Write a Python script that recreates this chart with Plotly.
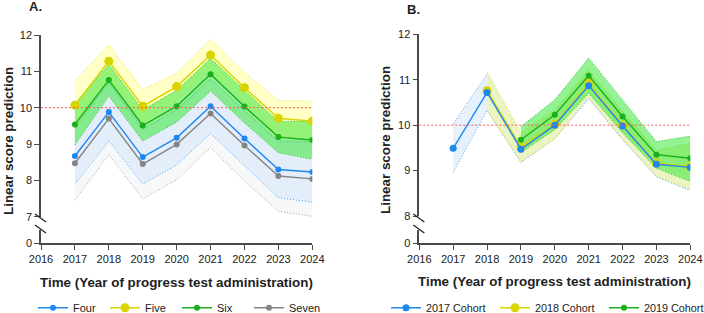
import plotly.graph_objects as go

# ---------------- data ----------------
years = [2017, 2018, 2019, 2020, 2021, 2022, 2023, 2024]
x_ticks = [2016, 2017, 2018, 2019, 2020, 2021, 2022, 2023, 2024]

# Panel A (by year group)
four = [8.67, 9.88, 8.64, 9.17, 10.04, 9.15, 8.30, 8.23]
four_lo = [7.89, 9.08, 7.90, 8.42, 9.29, 8.41, 7.52, 7.40]
four_hi = [9.45, 10.68, 9.40, 9.93, 10.80, 9.90, 9.06, 9.05]

five = [10.07, 11.28, 10.04, 10.58, 11.45, 10.55, 9.71, 9.63]
five_lo = [9.39, 10.84, 9.58, 10.21, 11.02, 10.13, 9.22, 9.08]
five_hi = [10.75, 11.72, 10.50, 10.95, 11.88, 10.97, 10.20, 10.18]

six = [9.54, 10.76, 9.51, 10.04, 10.92, 10.03, 9.19, 9.11]
six_lo = [8.97, 10.32, 9.08, 9.60, 10.46, 9.58, 8.76, 8.58]
six_hi = [10.11, 11.20, 9.94, 10.48, 11.36, 10.48, 9.62, 9.64]

seven = [8.47, 9.70, 8.45, 8.99, 9.84, 8.96, 8.12, 8.04]
seven_lo = [7.45, 8.71, 7.49, 8.02, 8.90, 7.98, 7.15, 7.01]
seven_hi = [9.49, 10.69, 9.41, 9.96, 10.78, 9.94, 9.09, 9.07]

# Panel B (by cohort)
yrs17 = [2017, 2018, 2019, 2020, 2021, 2022, 2023, 2024]
c2017 = [9.49, 10.72, 9.47, 10.00, 10.87, 9.98, 9.14, 9.07]
c2017_lo = [8.96, 10.32, 9.18, 9.70, 10.58, 9.68, 8.86, 8.56]
c2017_hi = [10.03, 11.12, 9.78, 10.30, 11.17, 10.28, 9.42, 9.58]

yrs18 = [2018, 2019, 2020, 2021, 2022, 2023, 2024]
c2018 = [10.76, 9.52, 10.02, 10.92, 10.00, 9.16, 9.09]
c2018_lo = [10.33, 9.20, 9.70, 10.62, 9.70, 8.88, 8.58]
c2018_hi = [11.17, 9.84, 10.34, 11.22, 10.30, 9.44, 9.60]

yrs19 = [2019, 2020, 2021, 2022, 2023, 2024]
c2019 = [9.68, 10.23, 11.09, 10.19, 9.35, 9.27]
c2019_lo = [9.40, 9.90, 10.70, 9.83, 9.05, 8.76]
c2019_hi = [9.97, 10.56, 11.48, 10.55, 9.64, 9.76]

reference_score = 10

# ---------------- figure ----------------
W, H = 704, 313
FONT = "Liberation Sans, Arial, sans-serif"
AX = "#4a4a4a"

fig = go.Figure()


def band(xs, lo, hi, fill, edge, xa, ya):
    fig.add_trace(go.Scatter(
        x=list(xs) + list(xs)[::-1], y=list(hi) + list(lo)[::-1],
        fill="toself", fillcolor=fill, mode="none", hoverinfo="skip",
        showlegend=False, xaxis=xa, yaxis=ya))
    for arr in (lo, hi):
        fig.add_trace(go.Scatter(
            x=xs, y=arr, mode="lines", line=dict(color=edge, width=1, dash="1px,2px"),
            hoverinfo="skip", showlegend=False, xaxis=xa, yaxis=ya))


def series(xs, ys, name, color, msize, xa, ya, legend, rank):
    fig.add_trace(go.Scatter(
        x=xs, y=ys, name=name, mode="lines+markers",
        line=dict(color=color, width=1.4),
        marker=dict(color=color, size=msize),
        xaxis=xa, yaxis=ya, legend=legend, legendrank=rank))


# Panel A bands
band(years, seven_lo, seven_hi, "rgba(240,242,245,0.55)", "#a0a0a0", "x", "y")
band(years, four_lo, four_hi, "rgba(215,232,250,0.6)", "#4aa3f0", "x", "y")
band(years, five_lo, five_hi, "rgba(255,255,120,0.42)", "#e6e030", "x", "y")
band(years, six_lo, six_hi, "rgba(40,230,40,0.5)", "#2bbf2b", "x", "y")

series(years, four, "Four", "#1e88f0", 6, "x", "y", "legend", 1)
series(years, five, "Five", "#d8d400", 9, "x", "y", "legend", 2)
series(years, six, "Six", "#19b019", 6, "x", "y", "legend", 3)
series(years, seven, "Seven", "#858585", 6, "x", "y", "legend", 4)

# Panel B bands
band(yrs17, c2017_lo, c2017_hi, "rgba(215,232,250,0.6)", "#4aa3f0", "x2", "y2")
band(yrs18, c2018_lo, c2018_hi, "rgba(238,246,170,0.7)", "#e0dc30", "x2", "y2")
band(yrs19, c2019_lo, c2019_hi, "rgba(40,230,40,0.5)", "#2bbf2b", "x2", "y2")

series(yrs18, c2018, "2018 Cohort", "#d8d400", 9, "x2", "y2", "legend2", 2)
series(yrs19, c2019, "2019 Cohort", "#19b019", 6, "x2", "y2", "legend2", 3)
series(yrs17, c2017, "2017 Cohort", "#1e88f0", 7, "x2", "y2", "legend2", 1)

# empty traces so the lower (broken-axis) y axes form subplots
for xa, ya in (("x", "y3"), ("x2", "y4")):
    fig.add_trace(go.Scatter(x=[None], y=[None], mode="markers", showlegend=False,
                             hoverinfo="skip", xaxis=xa, yaxis=ya))

# reference lines at 10
for xa, ya in (("x", "y"), ("x2", "y2")):
    fig.add_shape(type="line", xref=xa, yref=ya, x0=2016, x1=2024,
                  y0=reference_score, y1=reference_score,
                  line=dict(color="#ff5a5a", width=1, dash="2px,2px"), layer="above")


def py(p):
    return 1 - p / H


def px(p):
    return p / W


xA = [px(41), px(312.3)]
xB = [px(419.3), px(690.3)]

common_x = dict(range=[2016, 2024], tickvals=x_ticks, ticks="outside", ticklen=5,
                tickwidth=1.3, tickcolor=AX, showline=True, linecolor=AX, linewidth=1.5,
                showgrid=False, zeroline=False, tickfont=dict(size=11, color="#222"),
                title=None)
common_y = dict(ticks="outside", ticklen=5, tickwidth=1.3, tickcolor=AX, showline=True,
                linecolor=AX, linewidth=1.5, showgrid=False, zeroline=False,
                tickfont=dict(size=11, color="#222"))

fig.update_layout(
    width=W, height=H, margin=dict(l=0, r=0, t=0, b=0, autoexpand=False),
    paper_bgcolor="white", plot_bgcolor="rgba(0,0,0,0)",
    font=dict(family=FONT, color="#222"),
    xaxis=dict(domain=xA, anchor="y3", **common_x),
    xaxis2=dict(domain=xB, anchor="y4", **common_x),
    yaxis=dict(domain=[py(216.7), py(35)], range=[7, 12], tickvals=[7, 8, 9, 10, 11, 12],
               anchor="x", **common_y),
    yaxis2=dict(domain=[py(216), py(34.3)], range=[8, 12], tickvals=[8, 9, 10, 11, 12],
                anchor="x2", **common_y),
    yaxis3=dict(domain=[py(243.3), py(230)], range=[0, 1], tickvals=[0], anchor="x", **common_y),
    yaxis4=dict(domain=[py(243.3), py(230)], range=[0, 1], tickvals=[0], anchor="x2", **common_y),
    legend=dict(orientation="h", x=px(33), y=py(307.7), xanchor="left", yanchor="middle",
                font=dict(size=11), entrywidth=27, entrywidthmode="pixels",
                bgcolor="rgba(0,0,0,0)"),
    legend2=dict(orientation="h", x=px(386), y=py(307.7), xanchor="left", yanchor="middle",
                 font=dict(size=10.8), entrywidth=64, entrywidthmode="pixels",
                 bgcolor="rgba(0,0,0,0)"),
    showlegend=True,
)

# axis titles and panel labels
ann = [
    dict(text="<b>Linear score prediction</b>", x=px(8), y=py(141), textangle=-90,
         font=dict(size=13.4)),
    dict(text="<b>Linear score prediction</b>", x=px(385), y=py(140), textangle=-90,
         font=dict(size=13.4)),
    dict(text="<b>Time (Year of progress test administration)</b>", x=px(176), y=py(282.7),
         font=dict(size=13.4)),
    dict(text="<b>Time (Year of progress test administration)</b>", x=px(554.5), y=py(281.7),
         font=dict(size=13.4)),
    dict(text="<b>A.</b>", x=px(35), y=py(7), font=dict(size=13)),
    dict(text="<b>B.</b>", x=px(413.5), y=py(9), font=dict(size=13)),
]
for a in ann:
    fig.add_annotation(xref="paper", yref="paper", showarrow=False, xanchor="center",
                       yanchor="middle", **a)

# axis break marks
for x0 in (41, 419.3):
    for yc in (218, 229):
        fig.add_shape(type="line", xref="paper", yref="paper",
                      x0=px(x0 - 6), x1=px(x0 + 5), y0=py(yc - 4), y1=py(yc + 4),
                      line=dict(color="#222", width=1.3))

fig.write_html("out.html")
